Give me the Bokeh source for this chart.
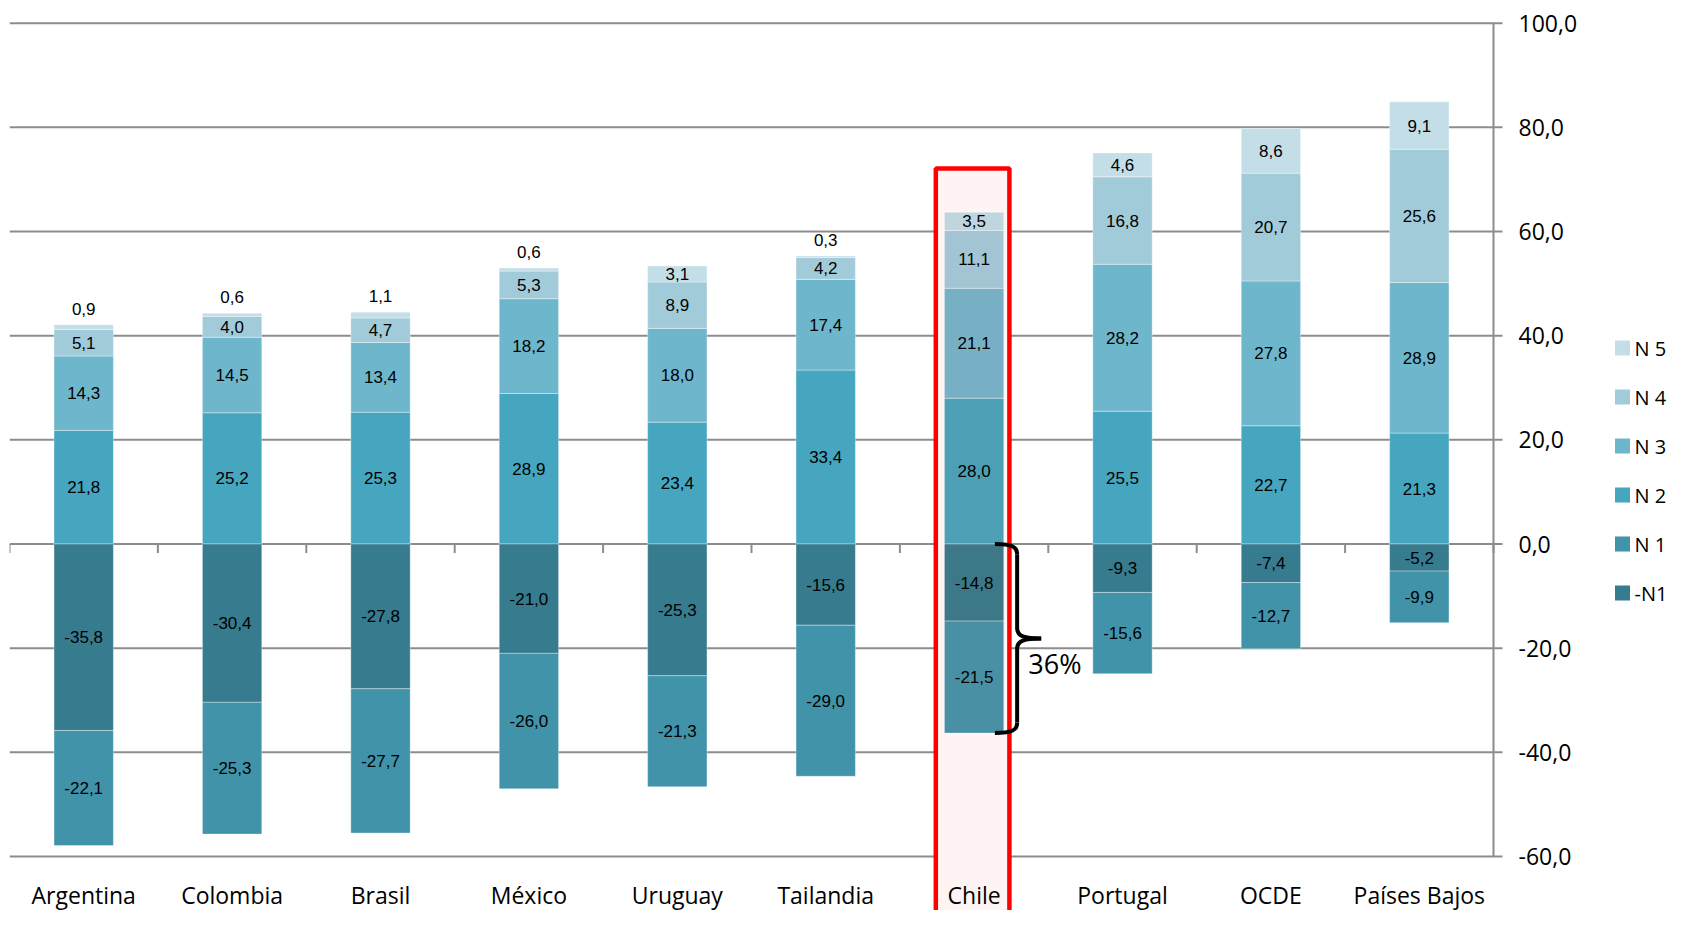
import numpy as np
from bokeh.plotting import figure
from bokeh.models import ColumnDataSource
from bokeh.core.properties import value
from bokeh.embed import file_html
from bokeh.resources import INLINE

# ---------------- data ----------------
countries = ["Argentina", "Colombia", "Brasil", "México", "Uruguay", "Tailandia",
             "Chile", "Portugal", "OCDE", "Países Bajos"]
n5 = [0.9, 0.6, 1.1, 0.6, 3.1, 0.3, 3.5, 4.6, 8.6, 9.1]
n4 = [5.1, 4.0, 4.7, 5.3, 8.9, 4.2, 11.1, 16.8, 20.7, 25.6]
n3 = [14.3, 14.5, 13.4, 18.2, 18.0, 17.4, 21.1, 28.2, 27.8, 28.9]
n2 = [21.8, 25.2, 25.3, 28.9, 23.4, 33.4, 28.0, 25.5, 22.7, 21.3]
bajo_n1 = [-35.8, -30.4, -27.8, -21.0, -25.3, -15.6, -14.8, -9.3, -7.4, -5.2]
n1 = [-22.1, -25.3, -27.7, -26.0, -21.3, -29.0, -21.5, -15.6, -12.7, -9.9]
y_ticks = [-60, -40, -20, 0, 20, 40, 60, 80, 100]
legend_order = ["N 5", "N 4", "N 3", "N 2", "N 1", "-N1"]
highlight = "Chile"

# ---------------- styles / layout ----------------
base_colors = {"N 5": "#c4dee7", "N 4": "#a2cbda", "N 3": "#6eb6cb",
               "N 2": "#46a5bf", "N 1": "#4193aa", "-N1": "#367b8e"}
hl_colors = {"N 5": "#c0d6df", "N 4": "#a3c5d3", "N 3": "#77b0c5",
             "N 2": "#4c9fb5", "N 1": "#4a90a5", "-N1": "#3d7889"}
GRID = "#8c8c8c"

W, H = 1669, 910
LEFT, TOP = 9, 10
PXU = 148.4                   # px per category
K = 5.208                     # px per y unit
FRAME_W = W - LEFT
FRAME_H = H - TOP
y_end = 100 + (22.7 - TOP) / K
y_start = y_end - FRAME_H / K
x_end = FRAME_W / PXU

def px_x(px):
    return (px - LEFT) / PXU

def px_y(py):
    return y_end - (py - TOP) / K

p = figure(frame_width=FRAME_W, frame_height=FRAME_H,
           x_range=(0, x_end), y_range=(y_start, y_end),
           min_border_left=LEFT, min_border_top=TOP, min_border_bottom=0,
           min_border_right=0,
           x_axis_location=None, y_axis_location=None,
           output_backend="svg", toolbar_location=None)
p.outline_line_color = None
p.background_fill_color = "white"
p.border_fill_color = "white"
p.grid.visible = False

ncat = len(countries)
x = np.arange(ncat) + 0.5
hi = countries.index(highlight)
yt = np.array(y_ticks, dtype=float)

# gridlines + right axis (drawn as marks)
p.segment(x0=np.zeros(len(yt)), y0=yt, x1=np.full(len(yt), ncat + 9 / PXU), y1=yt,
          line_color=GRID, line_width=2)
p.segment(x0=[ncat], y0=[yt.min()], x1=[ncat], y1=[yt.max()], line_color=GRID, line_width=2)
tick_lbl = [f"{t:.1f}".replace(".", ",") for t in yt]
p.text(x=np.full(len(yt), ncat + 25 / PXU), y=yt, text=tick_lbl,
       text_font=value("Open Sans"), text_font_size="23px",
       text_align="left", text_baseline="middle", text_color="#000000")

# highlight box (fill under bars)
p.quad(left=[x[hi] - 0.258], right=[x[hi] + 0.238], top=[72.1], bottom=[y_start - 5],
       fill_color="#fff4f4", line_color="#ff0000", line_width=4.5)

# category tick marks on the zero line
bounds_x = np.arange(ncat + 1)
p.segment(x0=bounds_x, y0=np.zeros(len(bounds_x)), x1=bounds_x,
          y1=np.full(len(bounds_x), -9 / K), line_color=GRID, line_width=2)

def fmt(v):
    return f"{v:.1f}".replace(".", ",")

series = []
pos_cum = np.zeros(ncat)
for name, vals in [("N 2", n2), ("N 3", n3), ("N 4", n4), ("N 5", n5)]:
    v = np.array(vals)
    series.append((name, pos_cum.copy(), pos_cum + v, v))
    pos_cum = pos_cum + v
neg_cum = np.zeros(ncat)
for name, vals in [("-N1", bajo_n1), ("N 1", n1)]:
    v = np.array(vals)
    series.append((name, neg_cum + v, neg_cum.copy(), v))
    neg_cum = neg_cum + v

label_x, label_y, label_t, label_off = [], [], [], []
for name, bot, top, v in series:
    cols = [hl_colors[name] if i == hi else base_colors[name] for i in range(ncat)]
    src = ColumnDataSource(dict(x=x, bottom=bot, top=top, color=cols))
    p.vbar(x="x", bottom="bottom", top="top", width=0.40, fill_color="color",
           line_color="white", line_alpha=0.35, line_width=1, source=src)
    for i in range(ncat):
        if name == "N 5" and abs(v[i]) < 2:
            label_y.append(top[i]); label_off.append(-16)
        else:
            label_y.append((bot[i] + top[i]) / 2); label_off.append(0)
        label_x.append(x[i]); label_t.append(fmt(v[i]))

lsrc = ColumnDataSource(dict(x=label_x, y=label_y, t=label_t, off=label_off))
p.text(x="x", y="y", text="t", y_offset="off", source=lsrc,
       text_font=value("Liberation Sans"), text_font_size="17px",
       text_align="center", text_baseline="middle", text_color="#000000")

# category labels
csrc = ColumnDataSource(dict(x=x, y=np.full(ncat, yt.min()), t=countries))
p.text(x="x", y="y", text="t", y_offset=39, source=csrc,
       text_font=value("Open Sans"), text_font_size="23px",
       text_align="center", text_baseline="alphabetic", text_color="#000000")

# brace for Chile negatives
top_b = 0.0
bot_b = bajo_n1[hi] + n1[hi]
mid_b = bot_b / 2
xe, xv, xt = 6.64, 6.79, 6.952
rr = 2.0
bx0 = [xe, xv, xt, xv]
by0 = [top_b, mid_b + rr, mid_b, bot_b + rr]
bx1 = [xv, xt, xv, xe]
by1 = [top_b - rr, mid_b, mid_b - rr, bot_b]
cx0 = [xe + 0.8 * (xv - xe), xv, xv + 0.3 * (xt - xv), xv]
cy0 = [top_b, mid_b + 0.2 * rr, mid_b, bot_b + 0.3 * rr]
cx1 = [xv, xv + 0.3 * (xt - xv), xv, xe + 0.8 * (xv - xe)]
cy1 = [top_b - 0.3 * rr, mid_b, mid_b - 0.2 * rr, bot_b]
p.bezier(x0=bx0, y0=by0, x1=bx1, y1=by1, cx0=cx0, cy0=cy0, cx1=cx1, cy1=cy1,
         line_color="black", line_width=4)
p.segment(x0=[xv, xv], y0=[top_b - rr, mid_b - rr], x1=[xv, xv], y1=[mid_b + rr, bot_b + rr],
          line_color="black", line_width=4)
p.text(x=[6.865], y=[-22.9], text=[f"{abs(round(bot_b))}%"],
       text_font=value("Open Sans"), text_font_size="27px",
       text_align="left", text_baseline="middle", text_color="#000000")

# legend (drawn as marks, right of the axis)
leg_y = [px_y(347.5 + 49 * i) for i in range(len(legend_order))]
leg_c = [base_colors[n] for n in legend_order]
p.scatter(x=np.full(len(leg_y), px_x(1622)), y=leg_y, marker="square", size=15,
          fill_color=leg_c, line_color=None)
p.text(x=np.full(len(leg_y), px_x(1634)), y=leg_y, text=legend_order,
       text_font=value("Open Sans"), text_font_size="20px",
       text_align="left", text_baseline="middle", text_color="#000000")

open("out.html", "w").write(file_html(p, INLINE))
